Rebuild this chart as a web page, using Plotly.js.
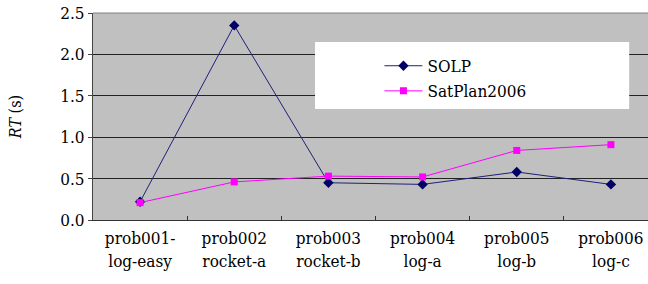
<!DOCTYPE html>
<html><head><meta charset="utf-8">
<script src="https://cdn.plot.ly/plotly-3.0.1.min.js"></script>
<style>html,body{margin:0;padding:0;overflow:hidden;background:#fff;width:648px;height:284px}</style>
</head><body><div id="chart" style="width:660px;height:284px"></div>
<script>
const categories = ["prob001-<br>log-easy", "prob002<br>rocket-a", "prob003<br>rocket-b", "prob004<br>log-a", "prob005<br>log-b", "prob006<br>log-c"];
const solp = [0.22, 2.35, 0.45, 0.43, 0.58, 0.43];
const satplan = [0.21, 0.46, 0.53, 0.52, 0.84, 0.91];
const yTicks = [0, 0.5, 1.0, 1.5, 2.0, 2.5];
const yTickText = ["0.0", "0.5", "1.0", "1.5", "2.0", "2.5"];

const font = "DejaVu Serif Condensed";
const traces = [
  {x: categories, y: solp, name: "SOLP", type: "scatter", mode: "lines+markers",
   line: {color: "#1f1f7a", width: 1}, marker: {symbol: "diamond", size: 8, color: "#000066"}},
  {x: categories, y: satplan, name: "SatPlan2006", type: "scatter", mode: "lines+markers",
   line: {color: "#ff00ff", width: 1}, marker: {symbol: "square", size: 7, color: "#ff00ff"}}
];
const layout = {
  width: 660, height: 284,
  margin: {l: 93, r: 2, t: 13, b: 64},
  paper_bgcolor: "#ffffff", plot_bgcolor: "#c0c0c0",
  font: {family: font, size: 17, color: "#000"},
  showlegend: true,
  legend: {x: 0.507, y: 0.83, xanchor: "left", yanchor: "top", bgcolor: "rgba(0,0,0,0)",
           font: {family: font, size: 17, color: "#000"}, itemwidth: 38, tracegroupgap: 0},
  xaxis: {type: "category", range: [-0.5, 5.5], tickson: "boundaries", ticks: "inside", ticklen: 4,
          tickcolor: "#333", showline: true, linecolor: "#333", linewidth: 1, showgrid: false,
          zeroline: false, tickfont: {family: font, size: 17, color: "#000"}, fixedrange: true,
          ticklabelstandoff: 3},
  yaxis: {range: [0, 2.5], tickvals: yTicks, ticktext: yTickText, ticks: "outside", ticklen: 4,
          tickcolor: "#444", showline: true, linecolor: "#444", linewidth: 1, showgrid: true,
          gridcolor: "#222", gridwidth: 1, zeroline: false, tickfont: {family: font, size: 17, color: "#000"},
          title: {text: "<i>RT</i> (s)", font: {family: font, size: 16, color: "#000"}, standoff: 34}},
  shapes: [
    {type: "rect", xref: "paper", yref: "paper", x0: 0.393, x1: 0.949, y0: 0.536, y1: 0.860,
     fillcolor: "#ffffff", line: {width: 0}, layer: "above"},
    {type: "line", xref: "paper", yref: "paper", x0: 0, x1: 1, y0: 1, y1: 1,
     line: {color: "#808080", width: 1}, layer: "above"}
  ]
};
Plotly.newPlot("chart", traces, layout, {displayModeBar: false, staticPlot: true});
</script></body></html>
